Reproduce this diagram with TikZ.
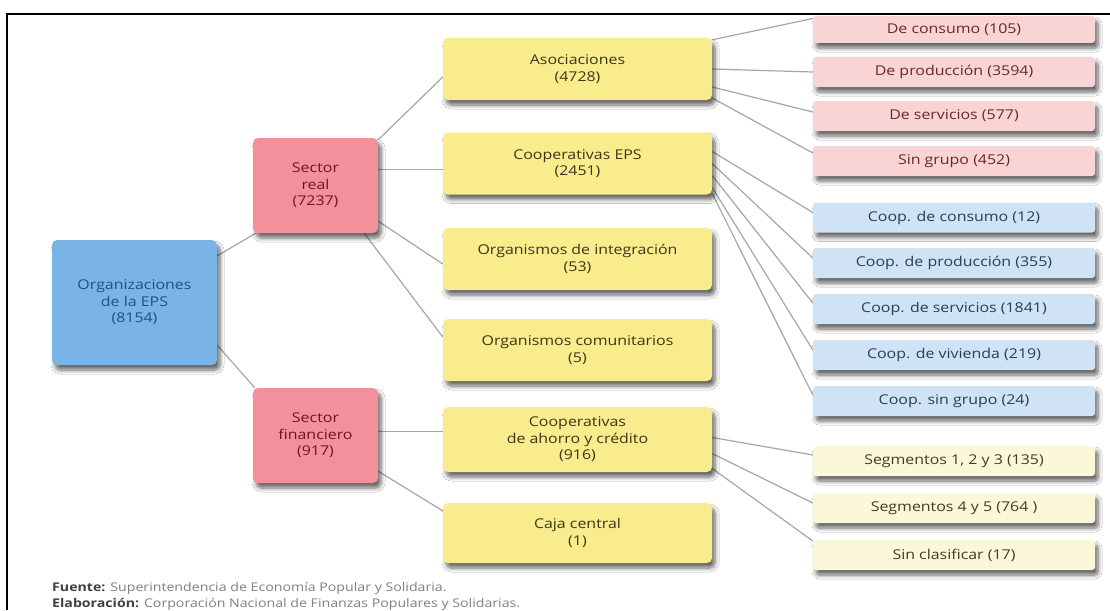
\documentclass[tikz,border=0pt]{standalone}
\usepackage{fontspec}
\setmainfont[FakeStretch=1.18]{Open Sans}
\usetikzlibrary{shadows.blur}
\pgfdeclarelayer{bg}
\pgfsetlayers{bg,main}
\definecolor{rootblue}{HTML}{7AB4E6}
\definecolor{roottext}{HTML}{1F5084}
\definecolor{secpink}{HTML}{F2919B}
\definecolor{sectext}{HTML}{6E1524}
\definecolor{midyel}{HTML}{F8EC8C}
\definecolor{midtext}{HTML}{3E3518}
\definecolor{ltpink}{HTML}{F9D4D4}
\definecolor{ltpinktext}{HTML}{6A2828}
\definecolor{ltblue}{HTML}{CFE3F5}
\definecolor{ltbluetext}{HTML}{243F5A}
\definecolor{ltyel}{HTML}{FBF8DA}
\definecolor{ltyeltext}{HTML}{423C20}
\definecolor{conn}{HTML}{A6A6A6}
\definecolor{foot}{HTML}{808080}
\begin{document}
\begin{tikzpicture}[x=1pt,y=-1pt,
  shad/.style={blur shadow={shadow xshift=3pt,shadow yshift=-5pt,shadow opacity=60,shadow blur steps=6,shadow blur radius=4pt}},
  bigbox/.style={shad,rounded corners=5pt,align=center,inner sep=0pt,font=\fontsize{13.5}{16.5}\selectfont},
  rootbox/.style={bigbox,fill=rootblue,text=roottext,minimum width=165pt,minimum height=125pt},
  secbox/.style={bigbox,fill=secpink,text=sectext,minimum width=125pt,minimum height=95pt},
  midbox/.style={bigbox,fill=midyel,text=midtext,minimum width=269pt,minimum height=62pt},
  leafbox/.style={shad,rounded corners=3pt,align=center,inner sep=0pt,minimum width=282pt,minimum height=30pt,font=\fontsize{13.5}{16}\selectfont},
  pinkleaf/.style={leafbox,fill=ltpink,text=ltpinktext},
  blueleaf/.style={leafbox,fill=ltblue,text=ltbluetext},
  yelleaf/.style={leafbox,fill=ltyel,text=ltyeltext},
  link/.style={draw=conn,line width=1.2pt},
  foottext/.style={anchor=base west,inner sep=0pt,text=foot,font=\fontsize{12}{14}\selectfont}]
\useasboundingbox (0,0) rectangle (1110,610);

% nodes
\node[rootbox] (root) at (134.5,302.5) {Organizaciones\\de la EPS\\(8154)};
\node[secbox] (sr) at (315.5,185.5) {Sector\\real\\(7237)};
\node[secbox] (sf) at (315.5,435.5) {Sector\\financiero\\(917)};

\node[midbox] (as) at (577.5,69) {Asociaciones\\(4728)};
\node[midbox] (ce) at (577.5,163.5) {Cooperativas EPS\\(2451)};
\node[midbox] (oi) at (577.5,259) {Organismos de integración\\(53)};
\node[midbox] (oc) at (577.5,350) {Organismos comunitarios\\(5)};
\node[midbox,minimum height=65pt] (oa) at (577.5,439.5) {Cooperativas\\de ahorro y crédito\\(916)};
\node[midbox,minimum height=60pt] (cc) at (577.5,533) {Caja central\\(1)};

\node[pinkleaf,minimum height=27pt] (dc) at (954,29.5) {De consumo (105)};
\node[pinkleaf] (dp) at (954,72) {De producción (3594)};
\node[pinkleaf] (ds) at (954,116) {De servicios (577)};
\node[pinkleaf] (sg) at (954,161) {Sin grupo (452)};

\node[blueleaf] (bc) at (954,217.5) {Coop. de consumo (12)};
\node[blueleaf] (bp) at (954,263) {Coop. de producción (355)};
\node[blueleaf] (bs) at (954,309) {Coop. de servicios (1841)};
\node[blueleaf] (bv) at (954,355) {Coop. de vivienda (219)};
\node[blueleaf] (bg) at (954,401) {Coop. sin grupo (24)};

\node[yelleaf] (s1) at (954,461) {Segmentos 1, 2 y 3 (135)};
\node[yelleaf] (s4) at (954,508) {Segmentos 4 y 5 (764 )};
\node[yelleaf] (sc) at (954,555) {Sin clasificar (17)};

% footer
\node[foottext] (f1) at (52,591) {\textcolor{black!75}{\bfseries Fuente:} Superintendencia de Economía Popular y Solidaria.};
\node[foottext] (f2) at (52,607) {\textcolor{black!75}{\bfseries Elaboración:} Corporación Nacional de Finanzas Populares y Solidarias.};

% connectors
\begin{pgfonlayer}{bg}
\fill[white] (0,0) rectangle (1110,610);
\draw[link] ([yshift=-16pt]root.north east) -- ([xshift=3pt]sr.south west);
\draw[link] ([yshift=20pt]root.south east) -- ([xshift=2pt]sf.north west);

\draw[link] ([yshift=-2pt]sr.north east) -- ([yshift=-8pt]as.west);
\draw[link] ([yshift=-6pt]ce.west) -- ([yshift=-6pt]ce.west -| sr.east);
\draw[link] ([yshift=12pt]sr.south east) -- ([yshift=-5pt]oi.west);
\draw[link] ([xshift=-14pt]sr.south east) -- ([yshift=13pt]oc.west);

\draw[link] ([yshift=4pt]sf.east) -- ([yshift=4pt]sf.east -| oa.west);
\draw[link] ([yshift=12pt]sf.south east) -- ([yshift=-8pt]cc.north west);

\draw[link] ([yshift=-2pt]as.north east) -- ([yshift=11pt]dc.west);
\draw[link] (as.east) -- (dp.west);
\draw[link] ([yshift=-18pt]as.east) -- ([yshift=4pt]ds.west);
\draw[link] ([yshift=-29pt]as.east) -- ([yshift=8pt]sg.west);

\draw[link] ([yshift=12pt]ce.east) -- ([yshift=5pt]bc.west);
\draw[link] ([yshift=0pt]ce.east) -- ([yshift=5pt]bp.west);
\draw[link] ([yshift=-12pt]ce.east) -- ([yshift=6pt]bs.west);
\draw[link] ([yshift=-24pt]ce.east) -- ([yshift=5pt]bv.west);
\draw[link] ([yshift=-30pt]ce.east) -- ([yshift=6pt]bg.west);

\draw[link] ([yshift=2pt]oa.east) -- ([yshift=6pt]s1.west);
\draw[link] ([yshift=-14pt]oa.east) -- ([yshift=5pt]s4.west);
\draw[link] ([yshift=-29pt]oa.east) -- ([yshift=14pt]sc.west);
\end{pgfonlayer}

% frame
\draw[line width=2pt] (7,610) -- (7,14) -- (1110,14);
\end{tikzpicture}
\end{document}
